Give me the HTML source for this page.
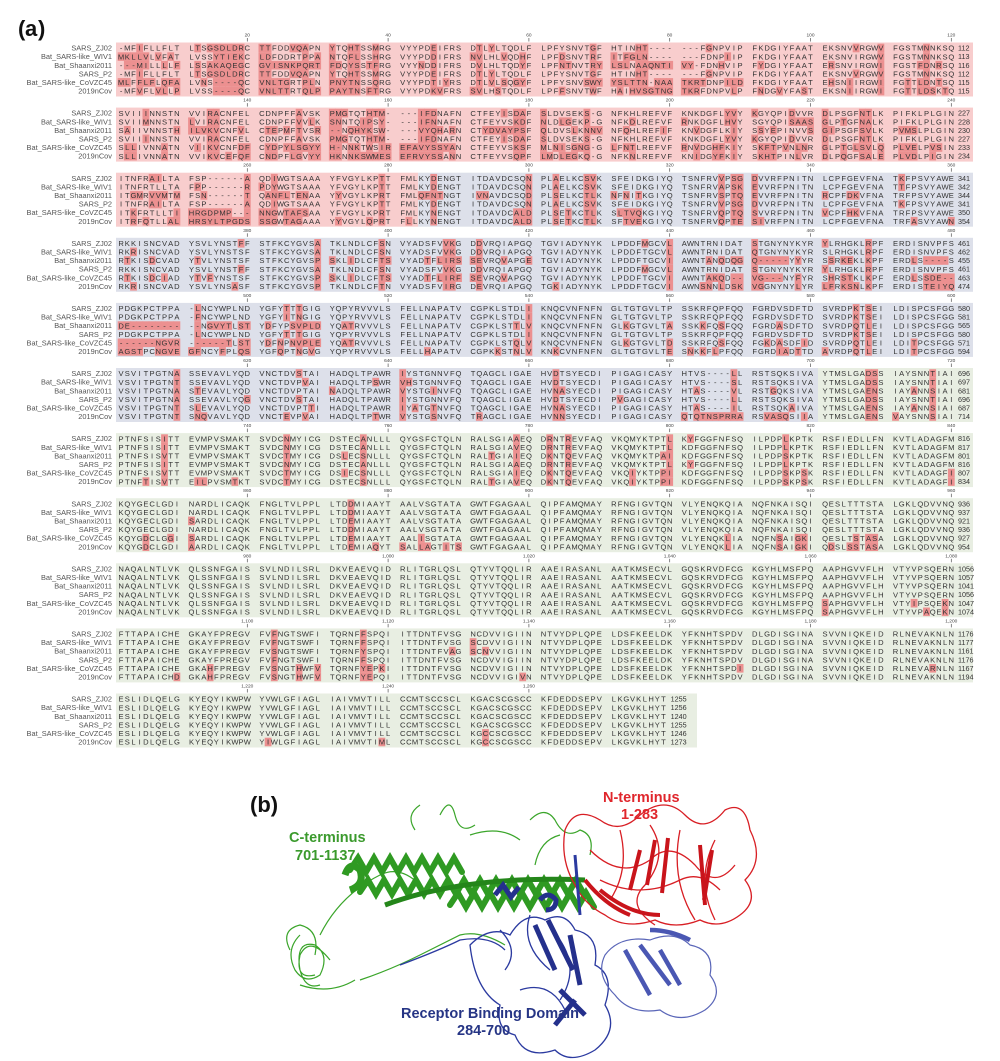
<!DOCTYPE html>
<html><head><meta charset="utf-8">
<style>
html,body{margin:0;padding:0;background:#fff;}
svg{display:block;}
</style></head>
<body>
<svg id="s" width="1000" height="1061" viewBox="0 0 1000 1061" xmlns="http://www.w3.org/2000/svg" font-family="Liberation Sans, Arial, sans-serif">
<text x="18" y="36" font-size="22" font-weight="bold" fill="#111">(</text><text x="25" y="36" font-size="22" font-weight="bold" fill="#111">a</text><text x="38" y="36" font-size="22" font-weight="bold" fill="#111">)</text>
<g id="al"></g>
<g id="pb">
<text x="250" y="812" font-size="22" font-weight="bold" fill="#111">(b)</text>
<g fill="none" stroke="#3aa52a" stroke-width="1.2">
<path d="M300 935 q-15 15 -5 35 q10 15 25 5 q10 -20 -5 -30 q-20 -5 -15 25 q5 20 20 15 M330 960 q-20 -25 -30 -5 q-5 25 15 20 M320 935 q20 -40 60 -60 q20 -10 40 10 M290 950 q-10 -20 10 -25 q20 5 15 30 M360 980 q30 -10 60 -25 q20 -10 40 -20 q20 -5 45 10 M300 985 q30 10 55 -5"/>
<path d="M440 815 q10 -20 15 0 q5 20 20 10 M530 820 q15 -15 25 0 q10 20 25 10 q15 5 10 25 M560 835 q-20 5 -25 30 M415 830 q-10 -15 5 -25 M470 835 q30 -10 50 5"/>
</g>
<g fill="none" stroke="#2f9a22" stroke-width="6" stroke-linecap="round">
<path d="M350 870 l8 -12 l8 14 l8 -14 l8 14 l8 -14 l8 14 l8 -14 l8 14 l8 -14 l8 14 l8 -14 l8 14 l8 -14 l8 14"/>
<path d="M360 892 l8 -12 l8 14 l8 -14 l8 14 l8 -14 l8 14 l8 -14 l8 14 l8 -14 l8 14 l8 -14 l8 14 l8 -14 l8 14 l8 -14 l8 14 l8 -14 l8 14 l8 -14 l8 14 l8 -14 l8 14 l8 -14 l8 14 l8 -14 l8 14 l8 -14 l8 14"/>
<path d="M450 905 l8 -12 l8 14 l8 -14 l8 14 l8 -14 l8 14 l8 -14 l8 14 l8 -14 l8 14 l8 -14 l8 14 l8 -14 l8 14 l8 -14 l8 14 l8 -14 l8 14"/>
</g>
<path d="M385 905 q80 -30 200 -25" stroke="#24861a" stroke-width="5" fill="none"/>
<path d="M345 875 q5 -15 15 -5 q5 15 -10 20" stroke="#2f9a22" stroke-width="7" fill="none"/>
<g fill="none" stroke="#d81e24" stroke-width="1.3">
<path d="M565 830 q10 -25 35 -10 q20 15 40 -5 q25 -20 45 0 q20 20 40 -5 q20 -10 25 20 q15 30 -5 50 q15 20 -5 35 q-20 15 -40 5 q-25 10 -45 0 q-30 10 -50 -5 q-20 -10 -30 -30 q-15 -25 -10 -55z"/>
<path d="M590 850 q30 30 60 10 q20 -20 45 5 q20 25 40 0 M600 880 q40 20 80 0 q20 -10 40 10 M620 830 q10 40 -10 70 M680 830 q-10 50 15 90 M715 840 q-20 40 0 80 M650 825 q20 30 -5 60 q-20 20 10 40"/>
</g>
<g stroke="#c9141b" stroke-width="4" fill="none">
<path d="M655 840 l-8 45 M668 838 l-6 55 M700 845 l5 60 M712 850 l-8 50 M600 890 q30 25 60 25 M585 880 q20 25 45 35 M640 850 l-10 40"/>
</g>
<g fill="none" stroke="#2b3aa0" stroke-width="1.3">
<path d="M470 945 q20 -20 40 -10 q15 -25 35 -15 q20 -10 30 10 q25 5 20 35 q20 10 10 40 q15 25 -10 45 q-25 15 -40 0 q-30 10 -40 -15 q-20 -5 -15 -30 q-25 -15 -30 -60z"/>
<path d="M500 930 q20 20 5 40 M530 915 q-10 30 20 55 M560 940 q20 30 0 60 M520 990 q30 -10 45 20"/>
</g>
<g stroke="#24308c" stroke-width="5" fill="none">
<path d="M535 925 l20 45 M548 920 l25 50 M570 935 l10 50 M560 990 l25 25 M575 1000 l-20 25"/>
<path d="M495 895 l8 -10 l8 12 l8 -10 M540 900 q8 -10 16 0 q0 10 -10 10"/>
</g>
<path d="M575 855 l5 60" stroke="#2b3aa0" stroke-width="3"/>
<g fill="none" stroke="#5a66b8" stroke-width="1.2">
<path d="M605 955 q15 -20 45 -15 q25 -10 40 5 q25 5 20 30 q15 20 -5 35 q-25 15 -45 0 q-30 5 -45 -15 q-20 -20 -10 -40z"/>
</g>
<g stroke="#4a57b3" stroke-width="4.5" fill="none">
<path d="M625 950 l25 45 M640 945 l30 40 M660 950 l20 35 M650 930 q20 0 40 10"/>
</g>
<path d="M400 965 q40 -15 60 -25 q30 -5 45 10" stroke="#2b3aa0" stroke-width="1.3" fill="none"/>
<text x="289" y="842" font-size="14.5" font-weight="bold" fill="#3b9a2d">C-terminus</text>
<text x="295" y="860" font-size="14.5" font-weight="bold" fill="#3b9a2d">701-1137</text>
<text x="603" y="802" font-size="14.5" font-weight="bold" fill="#e0262c">N-terminus</text>
<text x="621" y="819" font-size="14.5" font-weight="bold" fill="#e0262c">1-283</text>
<text x="401" y="1018" font-size="14.5" font-weight="bold" fill="#263585">Receptor Binding Domain</text>
<text x="457" y="1035" font-size="14.5" font-weight="bold" fill="#263585">284-700</text>
</g>
</svg>
<script>
(function(){
var names=["SARS_ZJ02","Bat_SARS-like_WIV1","Bat_Shaanxi2011","SARS_P2","Bat_SARS-like_CoVZC45","2019nCov"];
var B=[
[["-MFIFLLFLT LTSGSDLDRC TTFDDVQAPN YTQHTSSMRG VYYPDEIFRS DTLYLTQDLF LPFYSNVTGF HTINHT---- ---FGNPVIP FKDGIYFAAT EKSNVVRGWV FGSTMNNKSQ",112],
["MKLLVLVFAT LVSSYTIEKC LDFDDRTPPA NTQFLSSHRG VYYPDDIFRS NVLHLVQDHF LPFDSNVTRF ITFGLN---- ---FDNPIIP FKDGIYFAAT EKSNVIRGWV FGSTMNNKSQ",113],
["---MILLLLF LSSAKAQEGC GVISNKPQRT FDQYSSTFRG VYYNDDIFRS DVLHLTQDYF LPFNTNVTRY LSLNAAQNTI VY-FDNHVIP FYDGIYFAAT ERSNVIRGWI FGSTFDNRSQ",116],
["-MFIFLLFLT LTSGSDLDRC TTFDDVQAPN YTQHTSSMRG VYYPDEIFRS DTLYLTQDLF LPFYSNVTGF HTINHT---- ---FGNPVIP FKDGIYFAAT EKSNVVRGWV FGSTMNNKSQ",112],
["MLFFLFLQFA LVNS----QC VNLTGRTPLN PNYTNSSQRG VYYPDTIYRS DTLVLSQGYF LPFYSNVSWY YSLTTN-NAA TKRTDNPILD FKDGIYFAAT EHSNIIRGWI FGTTLDNTSQ",115],
["-MFVFLVLLP LVSS----QC VNLTTRTQLP PAYTNSFTRG VYYPDKVFRS SVLHSTQDLF LPFFSNVTWF HAIHVSGTNG TKRFDNPVLP FNDGVYFAST EKSNIIRGWI FGTTLDSKTQ",115]],
[["SVIIINNSTN VVIRACNFEL CDNPFFAVSK PMGTQTHTM- ---IFDNAFN CTFEYISDAF SLDVSEKS-G NFKHLREFVF KNKDGFLYVY KGYQPIDVVR DLPSGFNTLK PIFKLPLGIN",227],
["SVIIMNNSTN LVIRACNFEL CDNPFFVVLK SNNTQIPSY- ---IFNNAFN CTFEYVSKDF NLDLGEKP-G NFKDLREFVF RNKDGFLHVY SGYQPISAAS GLPTGFNALK PIFKLPLGIN",228],
["SAIIVNNSTH ILVKVCNFVL CTEPMFTVSR --NQHYKSW- ---VYQHARN CTYDVAYPSF QLDVSLKNNV NFQHLREFIF KNVDGFLKIY SSYEPINVVS GIPSGFSVLK PVMSLPLGIN",230],
["SVIIINNSTN VVIRACNFEL CDNPFFAVSK PMGTQTHTM- ---IFDNAFN CTFEYISDAF SLDVSEKS-G NFKHLREFVF KNKDGFLYVY KGYQPIDVVR DLPSGFNTLK PIFKLPLGIN",227],
["SLLIVNNATN VIIKVCNFDF CYDPYLSGYY H-NNKTWSIR EFAVYSSYAN CTFEYVSKSF MLNISGNG-G LFNTLREFVF RNVDGHFKIY SKFTPVNLNR GLPTGLSVLQ PLVELPVSIN",233],
["SLLIVNNATN VVIKVCEFQF CNDPFLGVYY HKNNKSWMES EFRVYSSANN CTFEYVSQPF LMDLEGKQ-G NFKNLREFVF KNIDGYFKIY SKHTPINLVR DLPQGFSALE PLVDLPIGIN",234]],
[["ITNFRAILTA FSP------A QDIWGTSAAA YFVGYLKPTT FMLKYDENGT ITDAVDCSQN PLAELKCSVK SFEIDKGIYQ TSNFRVVPSG DVVRFPNITN LCPFGEVFNA TKFPSVYAWE",341],
["ITNFRTLLTA FPP------R PDYWGTSAAA YFVGYLKPTT FMLKYDENGT ITDAVDCSQN PLAELKCSVK SFEIDKGIYQ TSNFRVAPSK EVVRFPNITN LCPFGEVFNA TTFPSVYAWE",342],
["ITGMRVVMTM FSN------T QANFLTENAA YYVGYLKPRT FMLQFNTNGT IVNAVDCSQD PLSELKCTLK NFNITKGIYQ TSNFRVSPTQ EVVRFPNITN RCPFDKVFNA TRFPSVYAWE",344],
["ITNFRAILTA FSP------A QDIWGTSAAA YFVGYLKPTT FMLKYDENGT ITDAVDCSQN PLAELKCSVK SFEIDKGIYQ TSNFRVVPSG DVVRFPNITN LCPFGEVFNA TKFPSVYAWE",341],
["ITKFRTLLTI HRGDPMP--- NNGWTAFSAA YFVGYLKPRT FMLKYNENGT ITDAVDCALD PLSETKCTLK SLTVQKGIYQ TSNFRVQPTQ SVVRFPNITN VCPFHKVFNA TRFPSVYAWE",350],
["ITRFQTLLAL HRSYLTPGDS SSGWTAGAAA YYVGYLQPRT FLLKYNENGT ITDAVDCALD PLSETKCTLK SFTVEKGIYQ TSNFRVQPTE SIVRFPNITN LCPFGEVFNA TRFASVYAWN",354]],
[["RKKISNCVAD YSVLYNSTFF STFKCYGVSA TKLNDLCFSN VYADSFVVKG DDVRQIAPGQ TGVIADYNYK LPDDFMGCVL AWNTRNIDAT STGNYNYKYR YLRHGKLRPF ERDISNVPFS",461],
["RKRISNCVAD YSVLYNSTSF STFKCYGVSA TKLNDLCFSN VYADSFVVKG DDVRQIAPGQ TGVIADYNYK LPDDFTGCVL AWNTRNIDAT QTGNYNYKYR SLRHGKLRPF ERDISNVPFS",462],
["RTKISDCVAD YTVLYNSTSF STFKCYGVSP SKLIDLCFTS VYADTFLIRS SEVRQVAPGE TGVIADYNYK LPDDFTGCVI AWNTANQDQG Q-----YYYR SSRKEKLKPF ERDLS----S",455],
["RKKISNCVAD YSVLYNSTFF STFKCYGVSA TKLNDLCFSN VYADSFVVKG DDVRQIAPGQ TGVIADYNYK LPDDFMGCVL AWNTRNIDAT STGNYNYKYR YLRHGKLRPF ERDISNVPFS",461],
["RTKISDCIAD YTVFYNSTSF STFKCYGVSP SKLIDLCFTS VYADTFLIRF SEVRQVAPGQ TGVIADYNYK LPDDFTGCVI AWNTAKQD-- VG---NYFYR SHRSTKLKPF ERDLSSDE--",463],
["RKRISNCVAD YSVLYNSASF STFKCYGVSP TKLNDLCFTN VYADSFVIRG DEVRQIAPGQ TGKIADYNYK LPDDFTGCVI AWNSNNLDSK VGGNYNYLYR LFRKSNLKPF ERDISTEIYQ",474]],
[["PDGKPCTPPA -LNCYWPLND YGFYTTTGIG YQPYRVVVLS FELLNAPATV CGPKLSTDLI KNQCVNFNFN GLTGTGVLTP SSKRFQPFQQ FGRDVSDFTD SVRDPKTSEI LDISPCSFGG",580],
["PDGKPCTPPA -FNCYWPLND YGFYITNGIG YQPYRVVVLS FELLNAPATV CGPKLSTDLI KNQCVNFNFN GLTGTGVLTP SSKRFQPFQQ FGRDVSDFTD SVRDPKTSEI LDISPCSFGG",581],
["DE-------- --NGVYTLST YDFYPSVPLD YQATRVVVLS FELLNAPATV CGPKLSTTLV KNQCVNFNFN GLKGTGVLTA SSKKFQSFQQ FGRDASDFTD SVRDPQTLEI LDISPCSFGG",565],
["PDGKPCTPPA -LNCYWPLND YGFYTTTGIG YQPYRVVVLS FELLNAPATV CGPKLSTDLI KNQCVNFNFN GLTGTGVLTP SSKRFQPFQQ FGRDVSDFTD SVRDPKTSEI LDISPCSFGG",580],
["------NGVR ------TLST YDFNPNVPLE YQATRVVVLS FELLNAPATV CGPKLSTQLV KNQCVNFNFN GLKGTGVLTD SSKRFQSFQQ FGKDASDFID SVRDPQTLEI LDITPCSFGG",571],
["AGSTPCNGVE GFNCYFPLQS YGFQPTNGVG YQPYRVVVLS FELLHAPATV CGPKKSTNLV KNKCVNFNFN GLTGTGVLTE SNKKFLPFQQ FGRDIADTTD AVRDPQTLEI LDITPCSFGG",594]],
[["VSVITPGTNA SSEVAVLYQD VNCTDVSTAI HADQLTPAWR IYSTGNNVFQ TQAGCLIGAE HVDTSYECDI PIGAGICASY HTVS----LL RSTSQKSIVA YTMSLGADSS IAYSNNTIAI",696],
["VSVITPGTNT SSEVAVLYQD VNCTDVPVAI HADQLTPSWR VHSTGNNVFQ TQAGCLIGAE HVDTSYECDI PIGAGICASY HTVS----SL RSTSQKSIVA YTMSLGADSS IAYSNNTIAI",697],
["VSVITPGTNA STEVAVLYQD VNCTDVPTAI NADQLTPAWR VYSTGINVFQ TQAGCLIGAE HVNASYECDI PIGAGICASY HTAS----VL RSTGQKSIVA YTMSLGAENS IAYANNSIAI",681],
["VSVITPGTNA SSEVAVLYQG VNCTDVSTAI HADQLTPAWR IYSTGNNVFQ TQAGCLIGAE HVDTSYECDI PVGAGICASY HTVS----LL RSTSQKSIVA YTMSLGADSS IAYSNNTIAI",696],
["VSVITPGTNT SLEVAVLYQD VNCTDVPTTI HADQLTPAWR IYATGTNVFQ TQAGCLIGAE HVNASYECDI PIGAGICASY HTAS----IL RSTSQKAIVA YTMSLGAENS IAYANNSIAI",687],
["VSVITPGTNT SNQVAVLYQD VNCTEVPVAI HADQLTPTWR VYSTGSNVFQ TRAGCLIGAE HVNNSYECDI PIGAGICASY QTQTNSPRRA RSVASQSIIA YTMSLGAENS VAYSNNSIAI",714]],
[["PTNFSISITT EVMPVSMAKT SVDCNMYICG DSTECANLLL QYGSFCTQLN RALSGIAAEQ DRNTREVFAQ VKQMYKTPTL KYFGGFNFSQ ILPDPLKPTK RSFIEDLLFN KVTLADAGFM",816],
["PTNFSISITT EVMPVSMAKT SVDCNMYICG DSTECANLLL QYGSFCTQLN RALSGIAVEQ DRNTREVFAQ VKQMYKTPTL KDFGGFNFSQ ILPDPLKPTK RSFIEDLLFN KVTLADAGFM",817],
["PTNFSISVTT EVMPVSMAKT SVDCTMYICG DSLECSNLLL QYGSFCTQLN RALTGIAIEQ DKNTQEVFAQ VKQMYKTPAI KDFGGFNFSQ ILPDPSKPTK RSFIEDLLFN KVTLADAGFM",801],
["PTNFSISITT EVMPVSMAKT SVDCNMYICG DSTECANLLL QYGSFCTQLN RALSGIAAEQ DRNTREVFAQ VKQMYKTPTL KYFGGFNFSQ ILPDPLKPTK RSFIEDLLFN KVTLADAGFM",816],
["PTNFSISVTT EVMPVSMAKT SVDCTMYICG DSIECSNLLL QYGSFCTQLN RALSGIAIEQ DKNTQEVFAQ VKQIYKTPPI KDFGGFNFSQ ILPDPSKPSK RSFIEDLLFN KVTLADAGFI",807],
["PTNFTISVTT EILPVSMTKT SVDCTMYICG DSTECSNLLL QYGSFCTQLN RALTGIAVEQ DKNTQEVFAQ VKQIYKTPPI KDFGGFNFSQ ILPDPSKPSK RSFIEDLLFN KVTLADAGFI",834]],
[["KQYGECLGDI NARDLICAQK FNGLTVLPPL LTDDMIAAYT AALVSGTATA GWTFGAGAAL QIPFAMQMAY RFNGIGVTQN VLYENQKQIA NQFNKAISQI QESLTTTSTA LGKLQDVVNQ",936],
["KQYGECLGDI NARDLICAQK FNGLTVLPPL LTDDMIAAYT AALVSGTATA GWTFGAGAAL QIPFAMQMAY RFNGIGVTQN VLYENQKQIA NQFNKAISQI QESLTTTSTA LGKLQDVVNQ",937],
["KQYGECLGDI SARDLICAQK FNGLTVLPPL LTDEMIAAYT AALVSGTATA GWTFGAGAAL QIPFAMQMAY RFNGIGVTQN VLYENQKQIA NQFNKAISQI QESLTTTSTA LGKLQDVVNQ",921],
["KQYGECLGDI NARDLICAQK FNGLTVLPPL LTDDMIAAYT AALVSGTATA GWTFGAGAAL QIPFAMQMAY RFNGIGVTQN VLYENQKQIA NQFNKAISQI QESLTTTSTA LGKLQDVVNQ",936],
["KQYGDCLGGI SARDLICAQK FNGLTVLPPL LTDEMIAAYT AALISGTATA GWTFGAGAAL QIPFAMQMAY RFNGIGVTQN VLYENQKLIA NQFNSAIGKI QESLTSTASA LGKLQDVVNQ",927],
["KQYGDCLGDI AARDLICAQK FNGLTVLPPL LTDEMIAQYT SALLAGTITS GWTFGAGAAL QIPFAMQMAY RFNGIGVTQN VLYENQKLIA NQFNSAIGKI QDSLSSTASA LGKLQDVVNQ",954]],
[["NAQALNTLVK QLSSNFGAIS SVLNDILSRL DKVEAEVQID RLITGRLQSL QTYVTQQLIR AAEIRASANL AATKMSECVL GQSKRVDFCG KGYHLMSFPQ AAPHGVVFLH VTYVPSQERN",1056],
["NAQALNTLVK QLSSNFGAIS SVLNDILSRL DKVEAEVQID RLITGRLQSL QTYVTQQLIR AAEIRASANL AATKMSECVL GQSKRVDFCG KGYHLMSFPQ AAPHGVVFLH VTYVPSQERN",1057],
["NAQALNTLVK QLSSNFGAIS SVLNDILSRL DKVEAEVQID RLITGRLQSL QTYVTQQLIR AAEIRASANL AATKMSECVL GQSKRVDFCG KGYHLMSFPQ AAPHGVVFLH VTYVPSQERN",1041],
["NAQALNTLVK QLSSNFGAIS SVLNDILSRL DKVEAEVQID RLITGRLQSL QTYVTQQLIR AAEIRASANL AATKMSECVL GQSKRVDFCG KGYHLMSFPQ AAPHGVVFLH VTYVPSQERN",1056],
["NAQALNTLVK QLSSNFGAIS SVLNDILSRL DKVEAEVQID RLITGRLQSL QTYVTQQLIR AAEIRASANL AATKMSECVL GQSKRVDFCG KGYHLMSFPQ SAPHGVVFLH VTYIPSQEKN",1047],
["NAQALNTLVK QLSSNFGAIS SVLNDILSRL DKVEAEVQID RLITGRLQSL QTYVTQQLIR AAEIRASANL AATKMSECVL GQSKRVDFCG KGYHLMSFPQ SAPHGVVFLH VTYVPAQEKN",1074]],
[["FTTAPAICHE GKAYFPREGV FVFNGTSWFI TQRNFFSPQI ITTDNTFVSG NCDVVIGIIN NTVYDPLQPE LDSFKEELDK YFKNHTSPDV DLGDISGINA SVVNIQKEID RLNEVAKNLN",1176],
["FTTAPAICHE GKAYFPREGV FVFNGTSWFI TQRNFFSPQI ITTDNTFVSG SCDVVIGIIN NTVYDPLQPE LDSFKEELDK YFKNHTSPDV DLGDISGINA SVVNIQKEID RLNEVAKNLN",1177],
["FTTAPAICHE GKAYFPREGV FVSNGTSWFI TQRNFYSPQI ITTDNTFVAG SCNVVIGIIN NTVYDPLQPE LDSFKEELDK YFKNHTSPDV DLGDISGINA SVVNIQKEID RLNEVAKNLN",1161],
["FTTAPAICHE GKAYFPREGV FVFNGTSWFI TQRNFFSPQI ITTDNTFVSG NCDVVIGIIN NTVYDPLQPE LDSFKEELDK YFKNHTSPDV DLGDISGINA SVVNIQKEID RLNEVAKNLN",1176],
["FTTAPAICHE GKAHFPREGV FVSNGTHWFV TQRNFYEPKI ITTDNTFVSG NCDVVIGIIN NTVYDPLQPE LDSFKEELDK YFKNHTSPDI DLGDISGINA SVVNIQKEID RLNEVARNLN",1167],
["FTTAPAICHD GKAHFPREGV FVSNGTHWFV TQRNFYEPQI ITTDNTFVSG NCDVVIGIVN NTVYDPLQPE LDSFKEELDK YFKNHTSPDV DLGDISGINA SVVNIQKEID RLNEVAKNLN",1194]],
[["ESLIDLQELG KYEQYIKWPW YVWLGFIAGL IAIVMVTILL CCMTSCCSCL KGACSCGSCC KFDEDDSEPV LKGVKLHYT",1255],
["ESLIDLQELG KYEQYIKWPW YVWLGFIAGL IAIVMVTILL CCMTSCCSCL KGACSCGSCC KFDEDDSEPV LKGVKLHYT",1256],
["ESLIDLQELG KYEQYIKWPW YVWLGFIAGL IAIVMVTILL CCMTSCCSCL KGACSCGSCC KFDEDDSEPV LKGVKLHYT",1240],
["ESLIDLQELG KYEQYIKWPW YVWLGFIAGL IAIVMVTILL CCMTSCCSCL KGACSCGSCC KFDEDDSEPV LKGVKLHYT",1255],
["ESLIDLQELG KYEQYIKWPW YVWLGFIAGL IAIVMVTILL CCMTSCCSCL KGCCSCGSCC KFDEDDSEPV LKGVKLHYT",1246],
["ESLIDLQELG KYEQYIKWPW YIWLGFIAGL IAIVMVTIML CCMTSCCSCL KGCCSCGSCC KFDEDDSEPV LKGVKLHYT",1273]]
];
var NS="http://www.w3.org/2000/svg";
var g=document.getElementById("al");
function el(t,a,txt){var e=document.createElementNS(NS,t);for(var k in a)e.setAttribute(k,a[k]);if(txt!=null)e.textContent=txt;g.appendChild(e);return e;}
var PINK="#f8cdcd",BLUE="#dde0ea",GREEN="#e8eee2",HL="#ec9090";
var X0=118,GP=70.4,CW=6.2,RH=8.6,Y0=48,BP=65.1;
function cx(c){return X0+Math.floor(c/10)*GP+(c%10)*CW;}
for(var b=0;b<B.length;b++){
  var rows=B[b].map(function(r){return r[0].replace(/ /g,"");});
  var n=rows[0].length;
  var yc=Y0+b*BP;
  var yTop=yc-5.5,yBot=yc+5*RH+5.5;
  var xend=(b==10)?697:973;
  var segs;
  if(b<2) segs=[[116,xend,PINK]];
  else if(b==2) segs=[[116,cx(43),PINK],[cx(43),xend,BLUE]];
  else if(b<5) segs=[[116,xend,BLUE]];
  else if(b==5) segs=[[116,cx(100)-4,BLUE],[cx(100)-4,xend,GREEN]];
  else segs=[[116,xend,GREEN]];
  for(var si=0;si<segs.length;si++){var s=segs[si];el("rect",{x:s[0],y:yTop,width:s[1]-s[0],height:yBot-yTop,fill:s[2]});}
  var ncols=Math.floor(n/20);
  for(var k=1;k<=ncols;k++){
    var c=k*20-1,num=b*120+k*20;
    var tx=cx(c)+CW/2;
    el("line",{x1:tx,y1:yc-10,x2:tx,y2:yc-6.5,stroke:"#555","stroke-width":0.7});
    el("text",{x:tx,y:yc-11.5,"font-size":"4.8","text-anchor":"middle",fill:"#444"},num>=1000?(Math.floor(num/1000)+","+String(num%1000).padStart(3,"0")):String(num));
  }
  for(var c=0;c<n;c++){
    var cnt={};rows.forEach(function(r){var ch=r[c]||" ";cnt[ch]=(cnt[ch]||0)+1;});
    var vals=Object.keys(cnt).map(function(k){return cnt[k];});
    var mx=Math.max.apply(null,vals);
    var tie3=(mx==3&&vals.filter(function(v){return v==3;}).length==2);
    for(var r=0;r<6;r++){
      var ch=rows[r][c];var ct=cnt[ch];
      if(ct<=2||tie3){
        el("rect",{x:cx(c)-0.3,y:yc+r*RH-4.3,width:CW+0.6,height:RH,fill:HL});
      }
    }
  }
  for(var r=0;r<6;r++){
    var y=yc+r*RH;
    el("text",{x:112,y:y+2.6,"font-size":"7.4","text-anchor":"end",fill:"#555"},names[r]);
    var xs=[];for(var c=0;c<n;c++)xs.push((cx(c)+CW/2).toFixed(1));
    el("text",{x:xs.join(" "),y:y+2.7,"font-size":"7.6","text-anchor":"middle",fill:"#333"},rows[r]);
    var nx=(b==10)?cx(n-1)+CW+4:958;
    el("text",{x:nx,y:y+2.6,"font-size":"7.2",fill:"#333"},String(B[b][r][1]));
  }
}
})();
</script>
</body></html>
